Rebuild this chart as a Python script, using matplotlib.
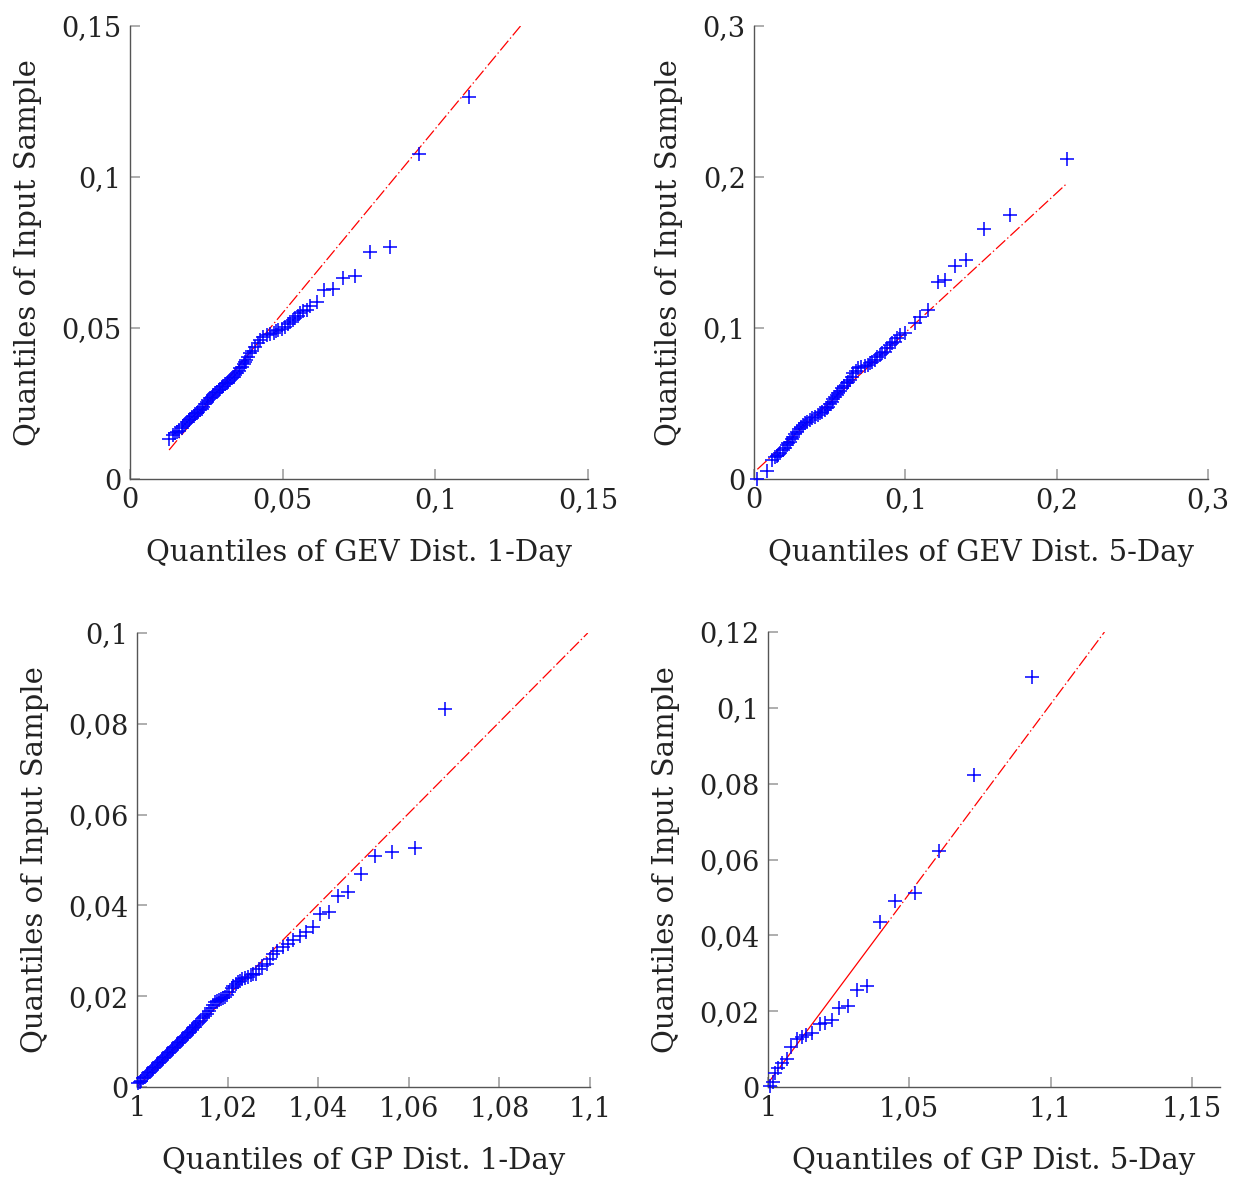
import matplotlib.pyplot as plt

# Q-Q plots: GEV (1-day, 5-day) and GP (1-day, 5-day)

gev1_x = [0.0128, 0.0140, 0.0148, 0.0155, 0.0162, 0.0170, 0.0175, 0.0181, 0.0186, 0.0192,
          0.0197, 0.0202, 0.0208, 0.0213, 0.0219, 0.0224, 0.0229, 0.0235, 0.0240, 0.0245,
          0.0251, 0.0256, 0.0262, 0.0268, 0.0273, 0.0278, 0.0284, 0.0290, 0.0295, 0.0301,
          0.0306, 0.0312, 0.0317, 0.0322, 0.0328, 0.0333, 0.0339, 0.0345, 0.0350, 0.0356,
          0.0361, 0.0366, 0.0372, 0.0376, 0.0380, 0.0387, 0.0393, 0.0400, 0.0410, 0.0418,
          0.0426, 0.0437, 0.0448, 0.0459, 0.0470, 0.0478, 0.0486, 0.0497, 0.0508, 0.0516,
          0.0525, 0.0533, 0.0541, 0.0549, 0.0557, 0.0568, 0.0579, 0.0590, 0.0612, 0.0636,
          0.0664, 0.0697, 0.0736, 0.0787, 0.0852, 0.0948, 0.1109]
gev1_y = [0.0131, 0.0145, 0.0151, 0.0155, 0.0158, 0.0168, 0.0175, 0.0183, 0.0190, 0.0195,
          0.0199, 0.0206, 0.0210, 0.0214, 0.0218, 0.0222, 0.0227, 0.0231, 0.0240, 0.0248,
          0.0256, 0.0262, 0.0267, 0.0272, 0.0278, 0.0284, 0.0289, 0.0294, 0.0299, 0.0304,
          0.0308, 0.0313, 0.0317, 0.0322, 0.0328, 0.0333, 0.0338, 0.0344, 0.0350, 0.0358,
          0.0366, 0.0372, 0.0380, 0.0387, 0.0394, 0.0405, 0.0416, 0.0425, 0.0438, 0.0450,
          0.0460, 0.0470, 0.0477, 0.0481, 0.0485, 0.0489, 0.0493, 0.0498, 0.0504, 0.0513,
          0.0521, 0.0527, 0.0532, 0.0541, 0.0549, 0.0555, 0.0560, 0.0574, 0.0585, 0.0625,
          0.0628, 0.0665, 0.0672, 0.0753, 0.0767, 0.1075, 0.1266]

gev5_x = [0.0022, 0.0084, 0.0117, 0.0139, 0.0150, 0.0160, 0.0175, 0.0193, 0.0205, 0.0216,
          0.0227, 0.0238, 0.0248, 0.0259, 0.0270, 0.0282, 0.0295, 0.0308, 0.0322, 0.0337,
          0.0353, 0.0370, 0.0386, 0.0403, 0.0420, 0.0436, 0.0452, 0.0469, 0.0480, 0.0490,
          0.0502, 0.0513, 0.0524, 0.0535, 0.0546, 0.0556, 0.0568, 0.0579, 0.0595, 0.0612,
          0.0623, 0.0634, 0.0645, 0.0656, 0.0672, 0.0688, 0.0710, 0.0733, 0.0750, 0.0766,
          0.0782, 0.0799, 0.0815, 0.0832, 0.0848, 0.0865, 0.0882, 0.0898, 0.0915, 0.0931,
          0.0948, 0.0964, 0.0997, 0.1063, 0.1096, 0.1150, 0.1217, 0.1261, 0.1327, 0.1404,
          0.1518, 0.1690, 0.2068]
gev5_y = [0.0000, 0.0055, 0.0126, 0.0144, 0.0150, 0.0159, 0.0172, 0.0192, 0.0205, 0.0225,
          0.0236, 0.0247, 0.0264, 0.0280, 0.0297, 0.0313, 0.0330, 0.0346, 0.0358, 0.0369,
          0.0380, 0.0391, 0.0402, 0.0413, 0.0424, 0.0435, 0.0446, 0.0457, 0.0468, 0.0479,
          0.0495, 0.0512, 0.0528, 0.0545, 0.0557, 0.0568, 0.0584, 0.0600, 0.0617, 0.0634,
          0.0645, 0.0656, 0.0678, 0.0700, 0.0717, 0.0733, 0.0740, 0.0748, 0.0757, 0.0766,
          0.0777, 0.0788, 0.0805, 0.0821, 0.0832, 0.0843, 0.0865, 0.0887, 0.0898, 0.0909,
          0.0932, 0.0954, 0.0965, 0.1031, 0.1075, 0.1119, 0.1307, 0.1318, 0.1413, 0.1450,
          0.1658, 0.1748, 0.2119]

gp1_x = [1.0003, 1.0006, 1.0009, 1.0014, 1.0018, 1.0022, 1.0025, 1.0029, 1.0033, 1.0036,
         1.0040, 1.0044, 1.0047, 1.0051, 1.0055, 1.0058, 1.0062, 1.0066, 1.0069, 1.0073,
         1.0077, 1.0080, 1.0084, 1.0088, 1.0091, 1.0095, 1.0099, 1.0102, 1.0106, 1.0110,
         1.0113, 1.0117, 1.0121, 1.0124, 1.0128, 1.0131, 1.0135, 1.0140, 1.0146, 1.0150,
         1.0155, 1.0159, 1.0163, 1.0168, 1.0172, 1.0177, 1.0182, 1.0186, 1.0190, 1.0195,
         1.0199, 1.0204, 1.0209, 1.0213, 1.0218, 1.0222, 1.0227, 1.0232, 1.0238, 1.0245,
         1.0251, 1.0257, 1.0263, 1.0270, 1.0277, 1.0286, 1.0294, 1.0301, 1.0310, 1.0323,
         1.0334, 1.0345, 1.0360, 1.0373, 1.0389, 1.0405, 1.0424, 1.0443, 1.0466, 1.0494,
         1.0525, 1.0564, 1.0613, 1.0681]
gp1_y = [0.0008, 0.0010, 0.0014, 0.0019, 0.0022, 0.0026, 0.0030, 0.0034, 0.0038, 0.0041,
         0.0045, 0.0049, 0.0052, 0.0056, 0.0060, 0.0063, 0.0067, 0.0071, 0.0074, 0.0078,
         0.0082, 0.0085, 0.0089, 0.0093, 0.0096, 0.0100, 0.0104, 0.0107, 0.0111, 0.0115,
         0.0118, 0.0122, 0.0126, 0.0129, 0.0133, 0.0136, 0.0140, 0.0145, 0.0151, 0.0156,
         0.0161, 0.0167, 0.0173, 0.0181, 0.0188, 0.0190, 0.0192, 0.0194, 0.0195, 0.0199,
         0.0203, 0.0210, 0.0217, 0.0222, 0.0227, 0.0231, 0.0234, 0.0237, 0.0239, 0.0243,
         0.0247, 0.0249, 0.0250, 0.0259, 0.0267, 0.0272, 0.0282, 0.0292, 0.0300, 0.0308,
         0.0315, 0.0324, 0.0333, 0.0342, 0.0353, 0.0380, 0.0385, 0.0421, 0.0429, 0.0469,
         0.0509, 0.0517, 0.0526, 0.0832]

gp5_x = [1.0007, 1.0017, 1.0025, 1.0036, 1.0048, 1.0066, 1.0080, 1.0101, 1.0119, 1.0134,
         1.0154, 1.0184, 1.0201, 1.0225, 1.0252, 1.0284, 1.0316, 1.0351, 1.0398, 1.0451,
         1.0519, 1.0604, 1.0728, 1.0933]
gp5_y = [0.0003, 0.0014, 0.0038, 0.0049, 0.0064, 0.0073, 0.0106, 0.0127, 0.0133, 0.0137,
         0.0143, 0.0166, 0.0170, 0.0177, 0.0208, 0.0214, 0.0256, 0.0266, 0.0436, 0.0490,
         0.0511, 0.0622, 0.0823, 0.1081]

# reference lines: [start, first quartile, third quartile, end]
gev1_ref_x = [0.0128, 0.020, 0.040, 0.1279]
gev1_ref_y = [0.0096, 0.0184, 0.0428, 0.1500]
gev5_ref_x = [0.0022, 0.030, 0.075, 0.2064]
gev5_ref_y = [0.0064, 0.0321, 0.0738, 0.1954]
gp1_ref_x = [1.0, 1.004, 1.020, 1.0995]
gp1_ref_y = [0.0, 0.0040, 0.0201, 0.1000]
gp5_ref_x = [1.0, 1.005, 1.0402, 1.1191]
gp5_ref_y = [0.001, 0.006, 0.0412, 0.1200]

panels = [
    dict(x=gev1_x, y=gev1_y, rx=gev1_ref_x, ry=gev1_ref_y,
         xlim=(0, 0.15), ylim=(0, 0.15),
         xt=[0, 0.05, 0.1, 0.15], xtl=['0', '0,05', '0,1', '0,15'],
         yt=[0, 0.05, 0.1, 0.15], ytl=['0', '0,05', '0,1', '0,15'],
         xlabel='Quantiles of GEV Dist. 1-Day',
         pos=[130 / 1239, 1 - 479 / 1180, 458 / 1239, 453 / 1180]),
    dict(x=gev5_x, y=gev5_y, rx=gev5_ref_x, ry=gev5_ref_y,
         xlim=(0, 0.3), ylim=(0, 0.3),
         xt=[0, 0.1, 0.2, 0.3], xtl=['0', '0,1', '0,2', '0,3'],
         yt=[0, 0.1, 0.2, 0.3], ytl=['0', '0,1', '0,2', '0,3'],
         xlabel='Quantiles of GEV Dist. 5-Day',
         pos=[754 / 1239, 1 - 479 / 1180, 454 / 1239, 453 / 1180]),
    dict(x=gp1_x, y=gp1_y, rx=gp1_ref_x, ry=gp1_ref_y,
         xlim=(1, 1.1), ylim=(0, 0.1),
         xt=[1, 1.02, 1.04, 1.06, 1.08, 1.1], xtl=['1', '1,02', '1,04', '1,06', '1,08', '1,1'],
         yt=[0, 0.02, 0.04, 0.06, 0.08, 0.1], ytl=['0', '0,02', '0,04', '0,06', '0,08', '0,1'],
         xlabel='Quantiles of GP Dist. 1-Day',
         pos=[137 / 1239, 1 - 1087 / 1180, 453 / 1239, 454 / 1180]),
    dict(x=gp5_x, y=gp5_y, rx=gp5_ref_x, ry=gp5_ref_y,
         xlim=(1, 1.16), ylim=(0, 0.12),
         xt=[1, 1.05, 1.1, 1.15], xtl=['1', '1,05', '1,1', '1,15'],
         yt=[0, 0.02, 0.04, 0.06, 0.08, 0.1, 0.12],
         ytl=['0', '0,02', '0,04', '0,06', '0,08', '0,1', '0,12'],
         xlabel='Quantiles of GP Dist. 5-Day',
         pos=[768 / 1239, 1 - 1087 / 1180, 452 / 1239, 455 / 1180]),
]

plt.rcParams['font.family'] = ['DejaVu Serif']
plt.rcParams['lines.scale_dashes'] = False
txt = '#222222'

fig = plt.figure(figsize=(12.39, 11.8), dpi=100)

for p in panels:
    ax = fig.add_axes(p['pos'])
    rx, ry = p['rx'], p['ry']
    # dash-dot extensions and solid middle segment
    ax.plot(rx[:2], ry[:2], color='red', lw=0.9, dashes=(9, 2, 1, 2))
    ax.plot(rx[1:3], ry[1:3], color='red', lw=0.9)
    ax.plot(rx[2:], ry[2:], color='red', lw=0.9, dashes=(9, 2, 1, 2))
    ax.plot(p['x'], p['y'], ls='none', marker='+', color='#0000ff',
            markersize=10, markeredgewidth=1.1, clip_on=False, zorder=3)

    ax.set_xlim(p['xlim'])
    ax.set_ylim(p['ylim'])
    ax.set_xticks(p['xt'])
    ax.set_xticklabels(p['xtl'])
    ax.set_yticks(p['yt'])
    ax.set_yticklabels(p['ytl'])
    ax.tick_params(direction='in', length=7, width=1.1, color='#999999',
                   labelsize=19.5, labelcolor=txt, pad=6)
    for s in ['top', 'right']:
        ax.spines[s].set_visible(False)
    for s in ['left', 'bottom']:
        ax.spines[s].set_color('#555555')
        ax.spines[s].set_linewidth(1.0)
    ax.set_xlabel(p['xlabel'], fontsize=21, color=txt, labelpad=18)
    ax.set_ylabel('Quantiles of Input Sample', fontsize=21, color=txt, labelpad=14)

fig.savefig('out.png', dpi=100)
